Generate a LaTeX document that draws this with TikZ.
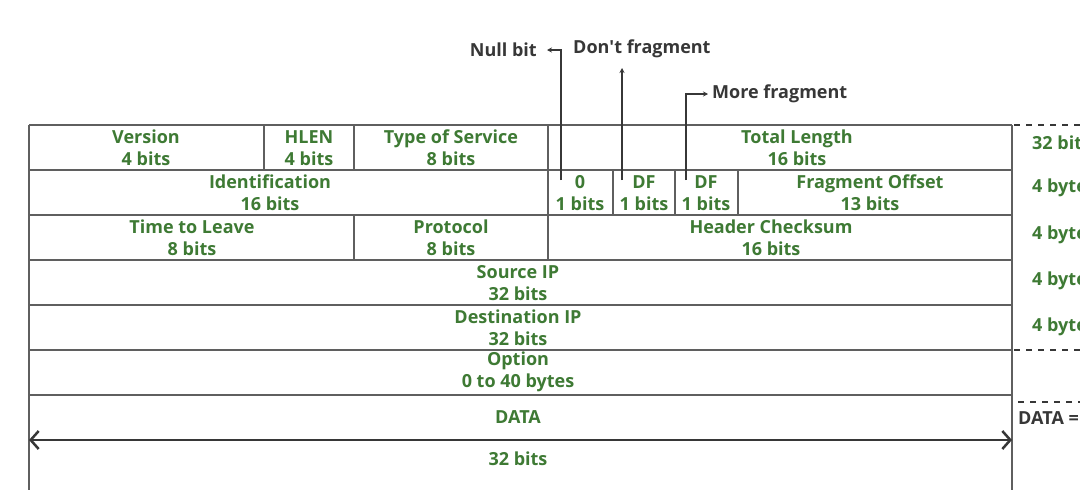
\documentclass[tikz,border=0pt]{standalone}
\usepackage{fontspec}
\setmainfont{Open Sans}
\usetikzlibrary{arrows.meta}
\definecolor{fgreen}{RGB}{62,122,52}
\definecolor{lgray}{RGB}{95,95,95}
\definecolor{dgray}{RGB}{55,55,55}
\tikzset{
  grid/.style={draw=lgray, line width=1.5pt},
  fld/.style={text=fgreen, font=\bfseries\fontsize{18}{22}\selectfont, align=center, inner sep=0pt},
  lbl/.style={text=dgray, font=\bfseries\fontsize{18}{22}\selectfont, inner sep=0pt},
  ptr/.style={draw=dgray, line width=1.4pt, -{Stealth[length=5pt,width=5pt]}},
  spanarrow/.style={draw=dgray, line width=2.5pt, {Straight Barb[length=8pt,width=18pt]}-{Straight Barb[length=8pt,width=18pt]}},
  sepline/.style={draw=dgray, line width=1.6pt, dash pattern=on 6pt off 6pt},
}
\begin{document}
\begin{tikzpicture}[x=1pt,y=-1pt]
\useasboundingbox (0,0) rectangle (1080,493);
\fill[white] (0,0) rectangle (1080,493);
% table grid
\draw[grid] (29,125) -- (1012,125);
\foreach \yy in {170,215,260,305,350,395} \draw[grid] (29,\yy) -- (1012,\yy);
\draw[grid] (29,125) -- (29,490);
\draw[grid] (1012,125) -- (1012,490);
\draw[grid] (264,125) -- (264,170);
\draw[grid] (354,125) -- (354,170);
\draw[grid] (548,125) -- (548,215);
\draw[grid] (613,170) -- (613,215);
\draw[grid] (675,170) -- (675,215);
\draw[grid] (738,170) -- (738,215);
\draw[grid] (354,215) -- (354,260);
\draw[grid] (548,215) -- (548,260);
% fields
\node[fld] (ver) at (146,148) {Version\\4 bits};
\node[fld] (hlen) at (309,148) {HLEN\\4 bits};
\node[fld] (tos) at (451,148) {Type of Service\\8 bits};
\node[fld] (tlen) at (797,148) {Total Length\\16 bits};
\node[fld] (ident) at (270,193) {Identification\\16 bits};
\node[fld] (nb) at (580,193) {0\\1 bits};
\node[fld] (df) at (644,193) {DF\\1 bits};
\node[fld] (mf) at (706,193) {DF\\1 bits};
\node[fld] (fo) at (870,193) {Fragment Offset\\13 bits};
\node[fld] (ttl) at (192,238) {Time to Leave\\8 bits};
\node[fld] (proto) at (451,238) {Protocol\\8 bits};
\node[fld] (hc) at (771,238) {Header Checksum\\16 bits};
\node[fld] (src) at (518,283) {Source IP\\32 bits};
\node[fld] (dst) at (518,328) {Destination IP\\32 bits};
\node[fld] (opt) at (518,372) {Option\\0 to 40 bytes};
\node[fld] (data) at (518,417) {DATA};
\node[fld] (width) at (518,459) {32 bits};
% right column
\node[fld, anchor=west] (r0) at (1032,143) {32 bits};
\node[fld, anchor=west] (r1) at (1032,188) {4 bytes};
\node[fld, anchor=west] (r2) at (1032,235) {4 bytes};
\node[fld, anchor=west] (r3) at (1032,281) {4 bytes};
\node[fld, anchor=west] (r4) at (1032,327) {4 bytes};
\node[lbl, anchor=west] (dq) at (1018,418) {DATA =};
\draw[sepline] (1014,125) -- (1080,125);
\draw[sepline] (1014,350) -- (1080,350);
\draw[sepline] (1018,402) -- (1080,402);
% flag pointers
\coordinate (nbf) at (561,180);
\coordinate (dff) at (622,180);
\coordinate (mff) at (686,180);
\coordinate (dft) at (622,68);
\node[lbl, anchor=east, inner xsep=10pt] (nulll) at (547,50) {Null bit};
\node[lbl, anchor=west] (dfl) at (573,49) {Don{\textquotesingle}t fragment};
\node[lbl, anchor=west, inner xsep=4pt] (mfl) at (708,94) {More fragment};
\draw[ptr] (nbf) |- (nulll.east);
\draw[ptr] (dff) -- (dft);
\draw[ptr] (mff) |- (mfl.west);
% width arrow
\coordinate (la) at (29,440);
\coordinate (ra) at (1012,440);
\draw[spanarrow] (la) -- (ra);
\end{tikzpicture}
\end{document}
